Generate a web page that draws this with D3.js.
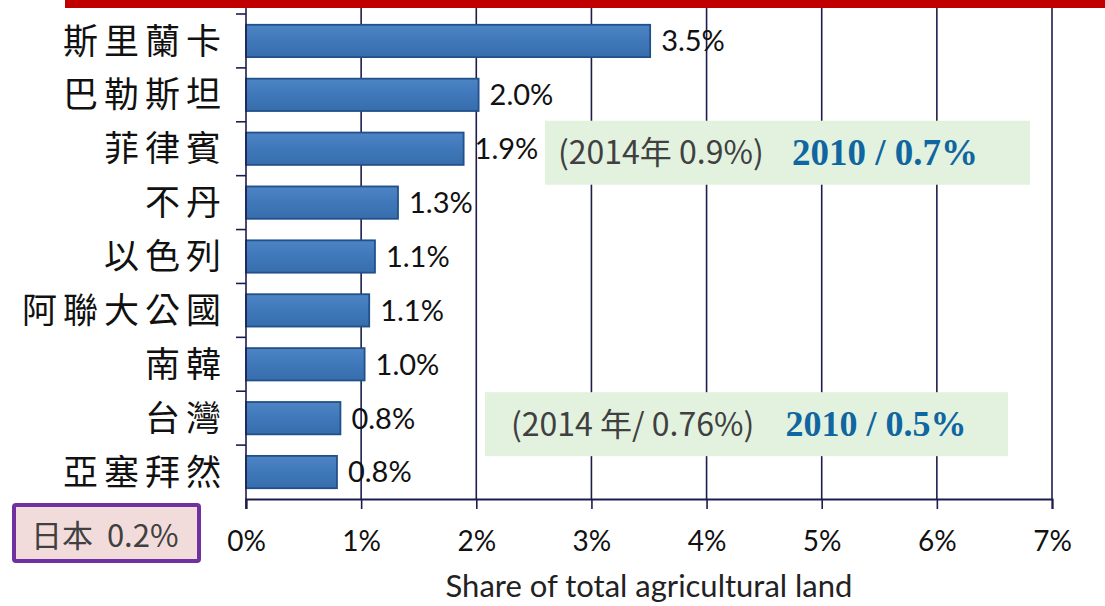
<!DOCTYPE html>
<html>
<head>
<meta charset="utf-8">
<script src="https://cdn.jsdelivr.net/npm/d3@7"></script>
<style>
  body { margin: 0; background: #fff; }
  #chart { width: 1105px; height: 606px; }
</style>
</head>
<body>
<div id="chart"></div>
<script>
// categories (top to bottom) and share of total agricultural land (%)
const countries = ["斯里蘭卡", "巴勒斯坦", "菲律賓", "不丹", "以色列", "阿聯大公國", "南韓", "台灣", "亞塞拜然"];
const shares = [3.51, 2.02, 1.89, 1.32, 1.12, 1.07, 1.03, 0.82, 0.79];
const xTicks = [0, 1, 2, 3, 4, 5, 6, 7];
const axisTitle = "Share of total agricultural land";
const japanNote = "日本  0.2%";
const notes = [
    { row: "菲律賓", old: "(2014年 0.9%)", now: "2010 / 0.7%" },
    { row: "台灣", old: "(2014 年/ 0.76%)", now: "2010 / 0.5%" }
];

const width = 1105, height = 606;
const margin = { top: 14, right: 53, bottom: 107, left: 246 };

const svg = d3.select("#chart").append("svg")
    .attr("width", width)
    .attr("height", height);

const defs = svg.append("defs");
const grad = defs.append("linearGradient")
    .attr("id", "barGrad")
    .attr("x1", 0).attr("y1", 0).attr("x2", 0).attr("y2", 1);
grad.append("stop").attr("offset", "0%").attr("stop-color", "#4d84c4");
grad.append("stop").attr("offset", "50%").attr("stop-color", "#3f78ba");
grad.append("stop").attr("offset", "100%").attr("stop-color", "#376dab");

const x = d3.scaleLinear()
    .domain([0, 7])
    .range([margin.left, width - margin.right]);

const y = d3.scaleBand()
    .domain(countries)
    .range([margin.top, height - margin.bottom])
    .paddingInner(0.4)
    .paddingOuter(0.2);

const axisColor = "#1d1d4d";
const yBottom = height - margin.bottom;
const latinFont = "Lato, 'Open Sans', sans-serif";

// vertical gridlines (plot continues above the visible area)
svg.append("g")
    .selectAll("line")
    .data(xTicks.slice(1))
    .enter().append("line")
    .attr("x1", d => x(d)).attr("x2", d => x(d))
    .attr("y1", 0).attr("y2", yBottom)
    .attr("stroke", axisColor)
    .attr("stroke-width", 1.6);

// bars
svg.append("g")
    .selectAll("rect")
    .data(countries)
    .enter().append("rect")
    .attr("x", x(0))
    .attr("y", d => y(d))
    .attr("width", (d, i) => x(shares[i]) - x(0))
    .attr("height", y.bandwidth())
    .attr("fill", "url(#barGrad)")
    .attr("stroke", "#22508a")
    .attr("stroke-width", 1.8);

// value labels
svg.append("g")
    .selectAll("text")
    .data(countries)
    .enter().append("text")
    .attr("x", (d, i) => x(shares[i]) + 11)
    .attr("y", d => y(d) + y.bandwidth() / 2)
    .attr("dy", "0.36em")
    .style("font-family", latinFont)
    .style("font-size", "29px")
    .attr("fill", "#111")
    .text((d, i) => shares[i].toFixed(1) + "%");

// left axis line and boundary ticks (Excel style, between categories)
svg.append("line")
    .attr("x1", x(0)).attr("x2", x(0))
    .attr("y1", 0).attr("y2", yBottom + 10)
    .attr("stroke", axisColor).attr("stroke-width", 1.6);

const step = y.step();
const boundaries = countries.map(d => y(d) - step * y.paddingInner() / 2);
svg.append("g")
    .selectAll("line")
    .data(boundaries)
    .enter().append("line")
    .attr("x1", x(0) - 10).attr("x2", x(0))
    .attr("y1", d => d).attr("y2", d => d)
    .attr("stroke", axisColor).attr("stroke-width", 1.6);

// category labels
svg.append("g")
    .selectAll("text")
    .data(countries)
    .enter().append("text")
    .attr("x", 227)
    .attr("y", d => y(d) + y.bandwidth() / 2)
    .attr("dy", "0.36em")
    .attr("text-anchor", "end")
    .style("font-family", "'Noto Sans CJK TC', sans-serif")
    .style("font-size", "35px")
    .style("letter-spacing", "6px")
    .attr("fill", "#111")
    .text(d => d);

// bottom axis
const xAxis = svg.append("g")
    .attr("transform", `translate(0,${yBottom})`)
    .call(d3.axisBottom(x).tickValues(xTicks).tickSize(10).tickPadding(22).tickFormat(d => d + "%"));
xAxis.select(".domain").attr("stroke", axisColor).attr("stroke-width", 2);
xAxis.selectAll(".tick line").attr("stroke", axisColor).attr("stroke-width", 1.6);
xAxis.selectAll(".tick text")
    .style("font-family", latinFont)
    .style("font-size", "28px")
    .attr("fill", "#111");

// axis title
svg.append("text")
    .attr("x", (x(0) + x(7)) / 2)
    .attr("y", 597)
    .attr("text-anchor", "middle")
    .style("font-family", latinFont)
    .style("font-size", "31px")
    .attr("fill", "#222")
    .text(axisTitle);

// red band at top
svg.append("rect")
    .attr("x", 65).attr("y", 0)
    .attr("width", width - 65).attr("height", 8)
    .attr("fill", "#c00000");

// Japan note box
svg.append("rect")
    .attr("x", 14).attr("y", 505)
    .attr("width", 185).attr("height", 56)
    .attr("rx", 2)
    .attr("fill", "#f2dcdb")
    .attr("stroke", "#7030a0")
    .attr("stroke-width", 4);
svg.append("text")
    .attr("x", 31).attr("y", 547)
    .style("font-family", "'Noto Sans CJK TC', sans-serif")
    .style("font-size", "31px")
    .style("white-space", "pre")
    .attr("fill", "#404040")
    .text(japanNote);

// green notes
const noteBoxes = [
    { x1: 545, x2: 1030, dy: -28, tx: 558, cx: 885, size: 37 },
    { x1: 485, x2: 1008, dy: -26, tx: 511, cx: 876, size: 36 }
];
notes.forEach((n, i) => {
    const cy = y(n.row) + y.bandwidth() / 2;
    const b = noteBoxes[i];
    const g = svg.append("g");
    g.append("rect")
        .attr("x", b.x1).attr("y", cy + b.dy)
        .attr("width", b.x2 - b.x1).attr("height", 64)
        .attr("fill", "#e2f2df");
    g.append("text")
        .attr("x", b.tx)
        .attr("y", cy + b.dy + 32)
        .attr("dy", "0.36em")
        .style("font-family", "'Noto Sans CJK TC', sans-serif")
        .style("font-size", "32px")
        .attr("fill", "#404040")
        .text(n.old);
    g.append("text")
        .attr("x", b.cx)
        .attr("y", cy + b.dy + 32)
        .attr("dy", "0.34em")
        .attr("text-anchor", "middle")
        .style("font-family", "'Liberation Serif', serif")
        .style("font-weight", "bold")
        .style("font-size", b.size + "px")
        .attr("fill", "#0f66a0")
        .text(n.now);
});
</script>
</body>
</html>
